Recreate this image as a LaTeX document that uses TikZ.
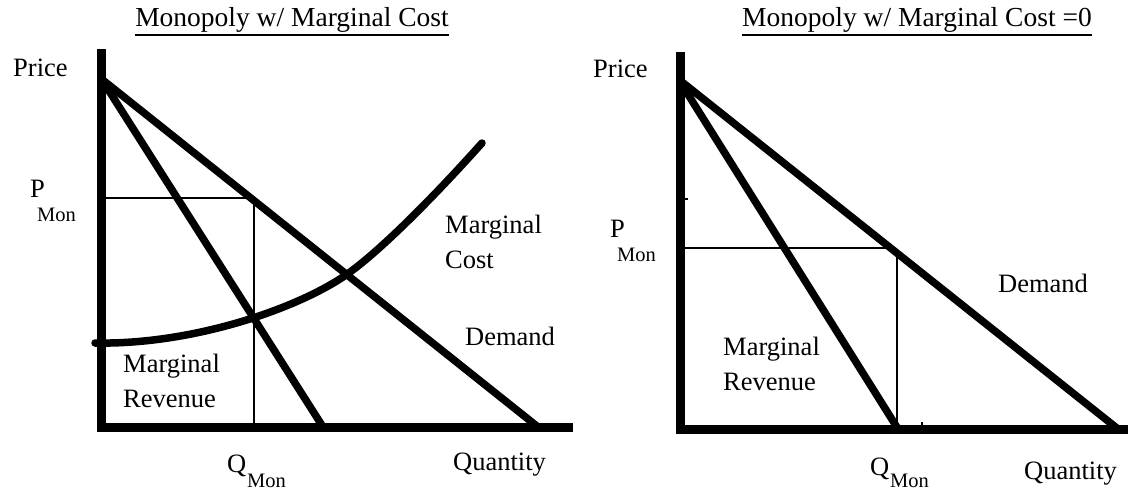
\documentclass[tikz,border=0pt]{standalone}
\usepackage{fontspec}
\setmainfont{Liberation Serif}
\usetikzlibrary{positioning}

\begin{document}
\begin{tikzpicture}[
    x=1pt, y=-1pt,
    axis/.style={line width=9pt, line join=miter},
    curve/.style={line width=7.5pt},
    guide/.style={line width=2pt},
    lbl/.style={inner sep=0pt, font=\fontsize{26.5}{35}\selectfont, align=left},
    sub/.style={inner sep=0pt, font=\fontsize{20.5}{24}\selectfont},
    ttl/.style={inner sep=0pt, font=\fontsize{27.5}{33}\selectfont}
  ]
    \useasboundingbox (0,0) rectangle (1128,492);

    % left panel
    \coordinate (lTop) at (101.5,49);
    \coordinate (lO) at (101.5,427);
    \coordinate (lEnd) at (573,427);
    \coordinate (lD0) at (104,81);
    \coordinate (lD1) at (538,427);
    \coordinate (lR0) at (104,83);
    \coordinate (lR1) at (323,427);
    \coordinate (lPm) at (101.5,198);
    \coordinate (lE) at (251,198);
    \coordinate (lQa) at (254,199);
    \coordinate (lQm) at (254,427);
    \coordinate (lC0) at (95,343);
    \coordinate (lCx) at (346,275);
    \coordinate (lC1) at (482,143);

    \node[ttl, anchor=base] (lTitle) at (292,27) {Monopoly w/ Marginal Cost};
    \node[lbl, anchor=base west] (lPrice) at (13,77) {Price};
    \node[lbl, anchor=base west] (lP) at (30,198) {P};
    \node[sub, anchor=base west] (lPsub) at (37,222) {Mon};
    \node[lbl, anchor=north west] (lMR) at (123,354) {Marginal\\Revenue};
    \node[lbl, anchor=north west] (lMC) at (445,215) {Marginal\\Cost};
    \node[lbl, anchor=base west] (lDem) at (465,345) {Demand};
    \node[lbl, anchor=base west] (lQty) at (453,470) {Quantity};
    \node[lbl, anchor=base west] (lQ) at (227,472) {Q};
    \node[sub, anchor=base west] (lQsub) at (247,487) {Mon};

    \draw[line width=1.5pt] ([yshift=-2pt]lTitle.south west) -- ([yshift=-2pt]lTitle.south east);
    \draw[axis] (lTop) -- (lO) -- (lEnd);
    \draw[guide] (lPm) -- (lE);
    \draw[guide] (lQa) -- (lQm);
    \draw[curve] (lD0) -- (lD1);
    \draw[curve] (lR0) -- (lR1);
    \draw[curve, line cap=round] (lC0) .. controls (190,345) and (295,310) .. (lCx)
      .. controls (383,249) and (440,190) .. (lC1);

    % right panel, marginal cost zero
    \coordinate (rTop) at (680.5,52);
    \coordinate (rO) at (680.5,429);
    \coordinate (rEnd) at (1134,429);
    \coordinate (rD0) at (682,82);
    \coordinate (rD1) at (1118,429);
    \coordinate (rR0) at (684,88);
    \coordinate (rR1) at (898,429);
    \coordinate (rPm) at (680.5,248);
    \coordinate (rE) at (891,248);
    \coordinate (rQa) at (897,252);
    \coordinate (rQm) at (897,429);

    \node[ttl, anchor=base] (rTitle) at (917,27) {Monopoly w/ Marginal Cost =0};
    \node[lbl, anchor=base west] (rPrice) at (593,78) {Price};
    \node[lbl, anchor=base west] (rP) at (610,237) {P};
    \node[sub, anchor=base west] (rPsub) at (617,261) {Mon};
    \node[lbl, anchor=north west] (rMR) at (723,337) {Marginal\\Revenue};
    \node[lbl, anchor=base west] (rDem) at (998,292) {Demand};
    \node[lbl, anchor=base west] (rQty) at (1024,479) {Quantity};
    \node[lbl, anchor=base west] (rQ) at (870,475) {Q};
    \node[sub, anchor=base west] (rQsub) at (890,487) {Mon};

    \draw[line width=1.5pt] ([yshift=-2pt]rTitle.south west) -- ([yshift=-2pt]rTitle.south east);
    \draw[axis] (rTop) -- (rO) -- (rEnd);
    \draw[guide] (rPm) -- (rE);
    \draw[guide] (rQa) -- (rQm);
    \draw[curve] (rD0) -- (rD1);
    \draw[curve] (rR0) -- (rR1);
    \draw[guide] (684,199) -- (688,199);
    \draw[guide] (922,422) -- (922,426);
  \end{tikzpicture}
\end{document}
